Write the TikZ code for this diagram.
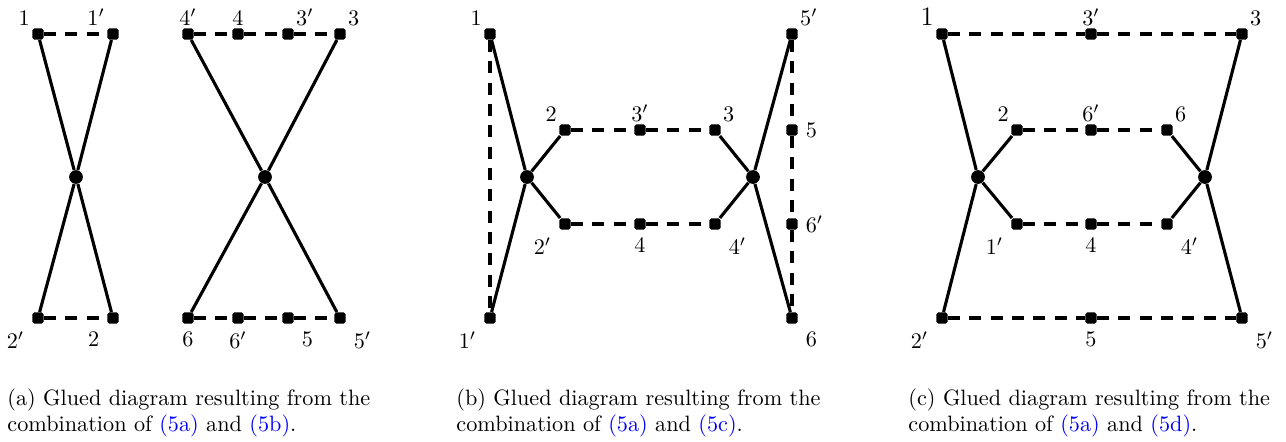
\documentclass[tikz,border=0pt]{standalone}
\usepackage{xcolor}
\begin{document}
\begin{tikzpicture}[x=0.45pt, y=-0.45pt,
        vtx/.style={rectangle, fill=black, inner sep=0pt, minimum size=5pt, rounded corners=0.8pt},
        hub/.style={circle, fill=black, inner sep=0pt, minimum size=6.2pt},
        leg/.style={line width=1.4pt},
        glue/.style={line width=1.4pt, dash pattern=on 5.4pt off 4.2pt},
        uplab/.style 2 args={label={[inner sep=0.8pt]#1:#2}},
        lowlab/.style 2 args={label={#1:#2}},
        capt/.style={anchor=north west, inner sep=0pt, align=left}]
    \useasboundingbox (0,0) rectangle (1286,441);

    % (a)
    \node (a1) [vtx, uplab={above left}{$1$}] at (38,34) {};
    \node (a1p) [vtx, uplab={above left}{$1'$}] at (113,34) {};
    \node (a2p) [vtx, lowlab={below left}{$2'$}] at (38,318) {};
    \node (a2) [vtx, lowlab={below left}{$2$}] at (113,318) {};
    \node (ha) [hub] at (76,177) {};
    \node (a4p) [vtx, uplab={above}{$4'$}] at (188,34) {};
    \node (a4) [vtx, uplab={above}{$4$}] at (238,34) {};
    \node (a3p) [vtx, uplab={above right}{$3'$}] at (288,34) {};
    \node (a3) [vtx, uplab={above right}{$3$}] at (340,34) {};
    \node (a6) [vtx, lowlab={below}{$6$}] at (188,318) {};
    \node (a6p) [vtx, lowlab={below}{$6'$}] at (238,318) {};
    \node (a5) [vtx, lowlab={below right}{$5$}] at (288,318) {};
    \node (a5p) [vtx, lowlab={below right}{$5'$}] at (340,318) {};
    \node (hb) [hub] at (265,177) {};

    \draw [glue] (a1) -- (a1p);
    \draw [glue] (a2p) -- (a2);
    \draw [leg] (a1) -- (ha) -- (a2);
    \draw [leg] (a1p) -- (ha) -- (a2p);
    \draw [glue] (a4p) -- (a4) -- (a3p) -- (a3);
    \draw [glue] (a6) -- (a6p) -- (a5) -- (a5p);
    \draw [leg] (a4p) -- (hb) -- (a5p);
    \draw [leg] (a3) -- (hb) -- (a6);

    % (b)
    \node (b1) [vtx, uplab={above left}{$1$}] at (490,34) {};
    \node (b1p) [vtx, lowlab={below left}{$1'$}] at (490,318) {};
    \node (b2) [vtx, uplab={above left}{$2$}] at (565,130) {};
    \node (b2p) [vtx, lowlab={below left}{$2'$}] at (565,224) {};
    \node (b3p) [vtx, uplab={above}{$3'$}] at (640,130) {};
    \node (b4) [vtx, lowlab={below}{$4$}] at (640,224) {};
    \node (b3) [vtx, uplab={above right}{$3$}] at (715,130) {};
    \node (b4p) [vtx, lowlab={below right}{$4'$}] at (715,224) {};
    \node (b5p) [vtx, uplab={above right}{$5'$}] at (792,34) {};
    \node (b5) [vtx, lowlab={right}{$5$}] at (792,130) {};
    \node (b6p) [vtx, lowlab={right}{$6'$}] at (792,224) {};
    \node (b6) [vtx, lowlab={below right}{$6$}] at (792,318) {};
    \node (hl) [hub] at (527,177) {};
    \node (hr) [hub] at (753,177) {};

    \draw [glue] (b1) -- (b1p);
    \draw [glue] (b5p) -- (b5) -- (b6p) -- (b6);
    \draw [glue] (b2) -- (b3p) -- (b3);
    \draw [glue] (b2p) -- (b4) -- (b4p);
    \draw [leg] (b1) -- (hl) -- (b1p);
    \draw [leg] (b2) -- (hl) -- (b2p);
    \draw [leg] (b5p) -- (hr) -- (b6);
    \draw [leg] (b3) -- (hr) -- (b4p);

    % (c)
    \node (c1) [vtx, uplab={above left}{\large$1$}] at (942,34) {};
    \node (c3p) [vtx, uplab={above}{$3'$}] at (1091,34) {};
    \node (c3) [vtx, uplab={above right}{$3$}] at (1242,34) {};
    \node (c2p) [vtx, lowlab={below left}{$2'$}] at (942,318) {};
    \node (c5) [vtx, lowlab={below}{$5$}] at (1091,318) {};
    \node (c5p) [vtx, lowlab={below right}{$5'$}] at (1242,318) {};
    \node (c2) [vtx, uplab={above left}{$2$}] at (1017,130) {};
    \node (c6p) [vtx, uplab={above}{$6'$}] at (1091,130) {};
    \node (c6) [vtx, uplab={above right}{$6$}] at (1167,130) {};
    \node (c1p) [vtx, lowlab={below left}{$1'$}] at (1017,224) {};
    \node (c4) [vtx, lowlab={below}{$4$}] at (1091,224) {};
    \node (c4p) [vtx, lowlab={below right}{$4'$}] at (1167,224) {};
    \node (hcl) [hub] at (978,177) {};
    \node (hcr) [hub] at (1205,177) {};

    \draw [glue] (c1) -- (c3p) -- (c3);
    \draw [glue] (c2p) -- (c5) -- (c5p);
    \draw [glue] (c2) -- (c6p) -- (c6);
    \draw [glue] (c1p) -- (c4) -- (c4p);
    \draw [leg] (c1) -- (hcl) -- (c2p);
    \draw [leg] (c2) -- (hcl) -- (c1p);
    \draw [leg] (c3) -- (hcr) -- (c5p);
    \draw [leg] (c6) -- (hcr) -- (c4p);

    % captions
    \node (capa) [capt] at (7,388) {(a) Glued diagram resulting from the\\combination of \textcolor{blue}{(5a)} and \textcolor{blue}{(5b)}.};
    \node (capb) [capt] at (456,388) {(b) Glued diagram resulting from the\\combination of \textcolor{blue}{(5a)} and \textcolor{blue}{(5c)}.};
    \node (capc) [capt] at (908,388) {(c) Glued diagram resulting from the\\combination of \textcolor{blue}{(5a)} and \textcolor{blue}{(5d)}.};
\end{tikzpicture}
\end{document}
